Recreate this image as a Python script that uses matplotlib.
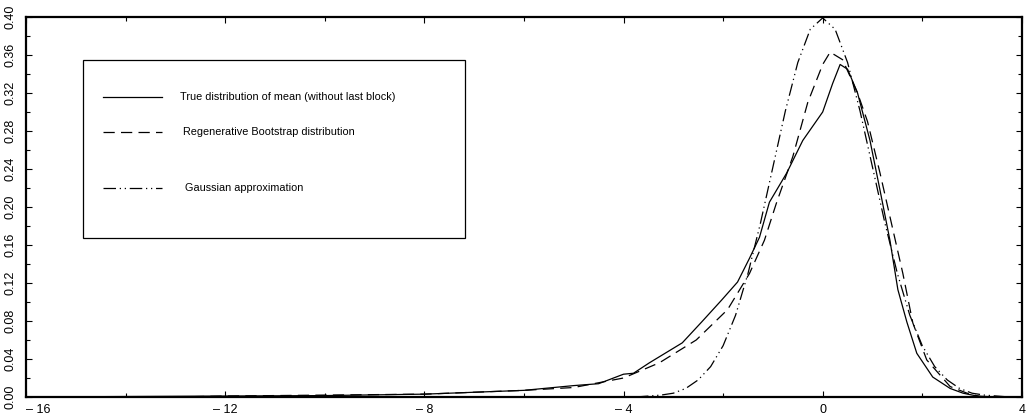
import matplotlib
matplotlib.use('Agg')
import matplotlib.pyplot as plt
from matplotlib.patches import Rectangle

plt.rcParams['font.family'] = ['Liberation Sans', 'DejaVu Sans']

# True distribution of mean (without last block)
true_x = [-16.0, -14.0, -12.0, -10.0, -8.0, -7.0, -6.0, -5.0, -4.5, -4.0, -3.8,
          -3.48, -2.82, -2.43, -2.03, -1.71, -1.47, -1.27, -1.07, -0.72, -0.40,
          0.0, 0.2, 0.35, 0.5, 0.7, 0.95, 1.15, 1.35, 1.51, 1.69, 1.89, 2.21,
          2.56, 2.82, 3.1, 3.5]
true_y = [0.0, 0.0005, 0.001, 0.0015, 0.003, 0.005, 0.007, 0.012, 0.014, 0.024, 0.025,
          0.036, 0.057, 0.079, 0.102, 0.121, 0.146, 0.168, 0.205, 0.236, 0.270,
          0.300, 0.330, 0.350, 0.345, 0.320, 0.270, 0.218, 0.165, 0.113, 0.079, 0.046, 0.021,
          0.009, 0.004, 0.001, 0.0]

# Regenerative Bootstrap distribution
boot_x = [-13.0, -12.0, -10.0, -8.0, -7.0, -6.0, -5.0, -4.0, -3.28, -2.54, -1.91,
          -1.47, -1.17, -0.93, -0.60, -0.30, 0.0, 0.15, 0.4, 0.7, 0.9, 1.15,
          1.61, 1.81, 2.09, 2.56, 2.9, 3.2]
boot_y = [0.0, 0.001, 0.002, 0.003, 0.005, 0.007, 0.010, 0.020, 0.036, 0.060, 0.092,
          0.130, 0.165, 0.204, 0.253, 0.310, 0.350, 0.363, 0.355, 0.320, 0.290, 0.236,
          0.130, 0.078, 0.039, 0.011, 0.004, 0.0]

# Gaussian approximation
gauss_x = [-3.75, -3.5, -3.25, -3.0, -2.75, -2.5, -2.25, -2.0, -1.75, -1.5, -1.25,
           -1.0, -0.75, -0.5, -0.25, 0.0, 0.25, 0.5, 0.75, 1.0, 1.25, 1.5,
           1.75, 2.0, 2.25, 2.5, 2.75, 3.0, 3.25, 3.5, 3.75]
gauss_y = [0.0, 0.001, 0.002, 0.004, 0.009, 0.018, 0.032, 0.054, 0.086, 0.130, 0.183,
           0.242, 0.301, 0.352, 0.387, 0.399, 0.387, 0.352, 0.301, 0.242, 0.183, 0.130,
           0.086, 0.054, 0.032, 0.018, 0.009, 0.004, 0.002, 0.001, 0.0]

labels = ['True distribution of mean (without last block)',
          'Regenerative Bootstrap distribution',
          'Gaussian approximation']

x_major = [-16, -12, -8, -4, 0, 4]
y_major = [0.0, 0.04, 0.08, 0.12, 0.16, 0.20, 0.24, 0.28, 0.32, 0.36, 0.40]

fig = plt.figure(figsize=(10.27, 4.19), dpi=100)
ax = fig.add_axes([0.0253, 0.0525, 0.9697, 0.907])

dash_dot = (0, (10, 3, 1, 3, 1, 3))
styles = ['-', (0, (9, 5)), dash_dot]
for (xs, ys), ls in zip([(true_x, true_y), (boot_x, boot_y), (gauss_x, gauss_y)], styles):
    ax.plot(xs, ys, color='black', linewidth=0.9, linestyle=ls)

ax.set_xlim(-16, 4)
ax.set_ylim(0, 0.40)
ax.set_xticks(x_major)
ax.set_xticklabels([str(v).replace('-', '\u2013 ') for v in x_major])
ax.get_xticklabels()[0].set_ha('left')
ax.set_xticks([-14, -10, -6, -2, 2], minor=True)
ax.set_yticks(y_major)
ax.set_yticklabels(['%.2f' % v for v in y_major], rotation=90, va='center')
ax.set_yticks([0.02, 0.06, 0.10, 0.14, 0.18, 0.22, 0.26, 0.30, 0.34, 0.38], minor=True)
ax.tick_params(which='both', direction='in', top=True, right=True, labelsize=9,
               width=0.8)
ax.tick_params(which='major', length=4)
ax.tick_params(which='minor', length=3)
ax.tick_params(axis='x', which='major', pad=5)
ax.tick_params(axis='y', which='major', pad=7)
for s in ax.spines.values():
    s.set_linewidth(1.6)

# legend box drawn in axes coordinates
ax.add_patch(Rectangle((0.0572, 0.418), 0.3836, 0.469, transform=ax.transAxes,
                       fill=False, edgecolor='black', linewidth=0.9))
leg_y = [0.789, 0.697, 0.550]
text_x = [0.1546, 0.158, 0.1596]
for ly, tx, ls, lab in zip(leg_y, text_x, styles, labels):
    ax.plot([0.0773, 0.1365], [ly, ly], transform=ax.transAxes, color='black',
            linewidth=0.9, linestyle=ls)
    ax.text(tx, ly, lab, transform=ax.transAxes, fontsize=7.8, va='center', ha='left')

fig.savefig('out.png', dpi=100)
